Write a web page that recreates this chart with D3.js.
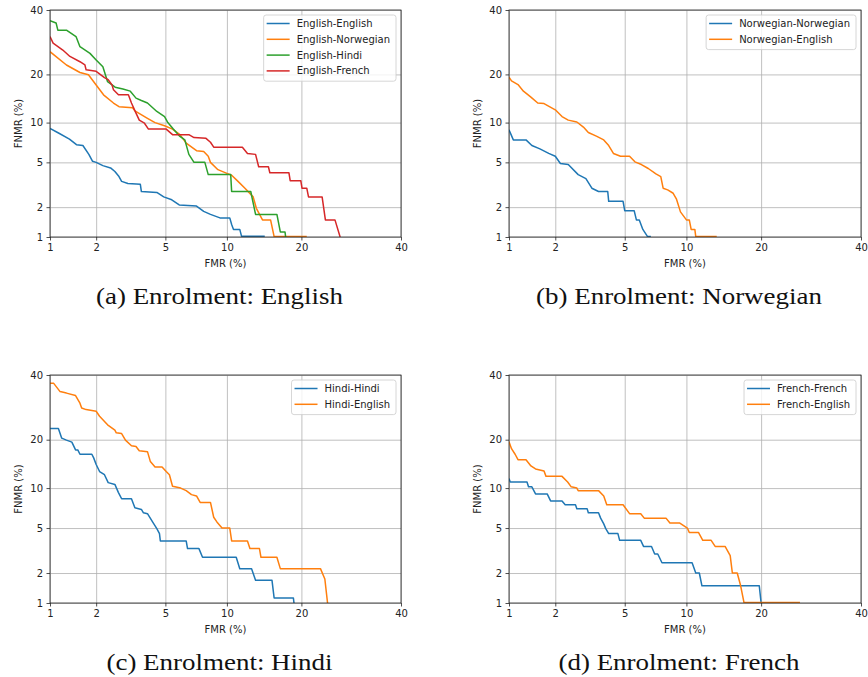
<!DOCTYPE html>
<html>
<head>
<meta charset="utf-8">
<script src="https://cdn.jsdelivr.net/npm/d3@7"></script>
<style>
  body { margin: 0; background: #fff; }
  svg { display: block; }
</style>
</head>
<body>
<script>
const WIDTH_SVG = 868;
const HEIGHT_SVG = 677;

const TICKS = [1, 2, 5, 10, 20, 40];
const COLORS = ["#1f77b4", "#ff7f0e", "#2ca02c", "#d62728"];

// DET curves, points as [FMR %, FNMR %]

// (a) Enrolment: English
const englishEnglish = [[1, 9.1], [1.15, 8.4], [1.35, 7.6], [1.5, 6.9], [1.65, 6.8], [1.8, 5.8], [1.9, 5.1], [2.0, 5.0], [2.2, 4.7], [2.45, 4.5], [2.6, 4.2], [2.75, 3.8], [2.85, 3.45], [3.1, 3.3], [3.65, 3.25], [3.7, 2.8], [4.5, 2.75], [4.9, 2.5], [5.4, 2.35], [5.9, 2.1], [7.2, 2.05], [7.8, 1.82], [8.4, 1.7], [9.3, 1.57], [10.3, 1.57], [10.5, 1.35], [10.7, 1.2], [11.4, 1.2], [11.6, 1.02], [14.5, 1.02]];
const englishNorwegian = [[1, 26.3], [1.29, 22.5], [1.58, 20.5], [1.79, 19.9], [2.0, 17.4], [2.22, 15.2], [2.55, 13.5], [2.75, 12.8], [3.3, 12.6], [3.4, 12.0], [4.0, 10.7], [4.4, 10.0], [4.95, 9.5], [5.45, 9.0], [5.95, 8.2], [6.4, 7.1], [7.2, 6.2], [7.8, 6.1], [8.2, 5.6], [8.4, 5.0], [9.1, 4.35], [10.0, 4.05], [10.5, 3.9], [11.2, 3.45], [12.0, 3.0], [13.0, 2.5], [13.4, 1.95], [14.2, 1.5], [15.3, 1.5], [15.8, 1.01], [20.9, 1.01]];
const englishHindi = [[1, 36.3], [1.1, 35.5], [1.13, 33.1], [1.29, 33.1], [1.49, 31], [1.58, 27.8], [1.83, 25.8], [2.0, 23.9], [2.2, 22], [2.35, 18.2], [2.61, 16.9], [2.9, 16.5], [3.2, 16], [3.45, 14.5], [3.7, 14], [4.0, 13.5], [4.5, 11.9], [4.95, 11], [5.15, 10], [5.5, 9], [5.95, 7.96], [6.3, 7.5], [6.6, 5.8], [7.0, 5.0], [7.9, 5.0], [8.2, 3.95], [10.4, 3.95], [10.5, 2.8], [12.7, 2.8], [13.3, 1.7], [16.2, 1.7], [16.7, 1.13], [17.4, 1.13], [17.5, 1]];
const englishFrench = [[1, 31], [1.05, 28.9], [1.22, 26.8], [1.36, 24.9], [1.58, 23.4], [1.7, 22.5], [1.73, 21.2], [2.0, 20.8], [2.25, 19.2], [2.37, 18.7], [2.5, 17.4], [2.55, 16.3], [2.73, 15.2], [3.12, 15.2], [3.25, 13.5], [3.45, 11.6], [3.6, 10.4], [3.85, 9.9], [4.05, 9.0], [5.05, 9.0], [5.45, 8.2], [6.6, 8.2], [7.0, 7.8], [8.0, 7.7], [8.4, 7.2], [8.7, 6.6], [11.7, 6.6], [12.3, 5.9], [13.3, 5.8], [13.7, 4.6], [15.0, 4.6], [15.2, 4.1], [18.0, 4.1], [18.2, 3.5], [19.9, 3.5], [20.1, 3.0], [20.9, 3.0], [21.2, 2.5], [23.6, 2.5], [24.2, 1.5], [26.0, 1.5], [27.0, 1]];

// (b) Enrolment: Norwegian
const norwegianNorwegian = [[1, 8.9], [1.07, 7.5], [1.3, 7.5], [1.42, 6.8], [1.6, 6.4], [1.82, 5.9], [2.0, 5.6], [2.15, 4.9], [2.4, 4.8], [2.75, 3.95], [3.05, 3.65], [3.3, 3.0], [3.6, 2.8], [4.05, 2.8], [4.1, 2.27], [4.9, 2.27], [5.0, 1.85], [5.6, 1.85], [5.75, 1.5], [5.95, 1.5], [6.2, 1.2], [6.55, 1.01], [6.8, 1.01]];
const norwegianEnglish = [[1, 19.3], [1.04, 18.4], [1.15, 17.5], [1.25, 16.0], [1.4, 14.7], [1.55, 13.5], [1.7, 13.4], [2.0, 12.2], [2.2, 11.0], [2.4, 10.4], [2.7, 10.1], [2.95, 9.3], [3.15, 8.5], [3.5, 8.0], [3.85, 7.5], [4.1, 6.8], [4.35, 5.9], [4.75, 5.6], [5.3, 5.6], [5.65, 5.05], [6.1, 4.8], [6.6, 4.45], [7.2, 4.0], [7.6, 3.8], [7.8, 3.0], [8.2, 2.9], [8.7, 2.7], [9.0, 2.4], [9.4, 1.8], [10.0, 1.5], [10.3, 1.5], [10.5, 1.2], [10.9, 1.2], [11.0, 1.01], [13.5, 1.01]];

// (c) Enrolment: Hindi
const hindiHindi = [[1, 23], [1.14, 23], [1.2, 20.4], [1.29, 19.9], [1.4, 19.4], [1.48, 17.5], [1.53, 17.5], [1.58, 16.5], [1.88, 16.5], [1.93, 15.7], [2.0, 14.3], [2.1, 12.9], [2.25, 12.3], [2.37, 10.9], [2.6, 10.6], [2.73, 9.3], [2.85, 8.4], [3.25, 8.4], [3.4, 7.2], [3.7, 7.0], [3.8, 6.6], [4.0, 6.5], [4.3, 5.5], [4.5, 4.95], [4.65, 4.5], [4.7, 3.9], [6.4, 3.9], [6.5, 3.35], [7.4, 3.35], [7.7, 2.8], [11.0, 2.8], [11.4, 2.2], [12.8, 2.2], [13.3, 1.7], [15.5, 1.7], [15.8, 1.13], [18.7, 1.13], [18.8, 1]];
const hindiEnglish = [[1, 37.1], [1.06, 37.1], [1.17, 34.3], [1.29, 33.8], [1.48, 33], [1.58, 30.5], [1.62, 29], [1.73, 28.5], [2.0, 28], [2.1, 26.5], [2.35, 24.0], [2.6, 22.5], [2.65, 21.8], [2.85, 21.6], [3.0, 19.9], [3.25, 18.5], [3.45, 18.3], [3.6, 17.3], [4.0, 17.1], [4.15, 14.9], [4.4, 13.8], [4.8, 13.8], [5.05, 12.9], [5.25, 12.3], [5.45, 10.3], [6.0, 10.0], [6.4, 9.6], [6.8, 9.0], [7.2, 8.8], [7.5, 7.9], [8.4, 7.9], [8.7, 6.1], [9.0, 5.6], [9.5, 5.0], [10.3, 5.0], [10.5, 3.9], [12.3, 3.9], [12.6, 3.35], [13.8, 3.35], [14.0, 2.8], [16.2, 2.8], [16.7, 2.2], [23.3, 2.2], [24.1, 1.75], [24.6, 1]];

// (d) Enrolment: French
const frenchFrench = [[1, 11.6], [1.02, 11.0], [1.32, 11.0], [1.35, 10.2], [1.42, 10.2], [1.5, 9.1], [1.78, 9.1], [1.87, 8.1], [2.2, 8.1], [2.3, 7.6], [2.65, 7.6], [2.7, 7.1], [3.1, 7.1], [3.15, 6.6], [3.6, 6.6], [3.7, 6.0], [3.85, 5.4], [3.95, 4.95], [4.1, 4.5], [4.6, 4.5], [4.7, 3.95], [6.05, 3.95], [6.25, 3.5], [6.85, 3.5], [7.1, 3.0], [7.35, 3.0], [7.7, 2.5], [10.6, 2.5], [11.0, 2.0], [11.4, 2.0], [11.7, 1.5], [19.7, 1.5], [20.0, 1]];
const frenchEnglish = [[1, 19.5], [1.04, 17.8], [1.1, 16.5], [1.15, 15.3], [1.3, 15.3], [1.4, 14], [1.5, 13.4], [1.7, 13], [1.75, 12.0], [2.2, 12.0], [2.38, 11.0], [2.5, 10.2], [2.7, 10.0], [2.75, 9.6], [3.6, 9.6], [3.85, 8.8], [4.0, 7.6], [4.9, 7.6], [5.3, 6.5], [6.05, 6.5], [6.3, 6.0], [8.05, 6.0], [8.4, 5.5], [9.3, 5.5], [10.1, 5.0], [10.3, 4.6], [11.3, 4.6], [11.8, 3.95], [12.8, 3.95], [13.3, 3.5], [14.6, 3.5], [15.3, 2.9], [15.6, 2.0], [16.3, 2.0], [16.8, 1.5], [17.3, 1.01], [27.0, 1.01]];

const captions = ["(a) Enrolment: English", "(b) Enrolment: Norwegian", "(c) Enrolment: Hindi", "(d) Enrolment: French"];
const legendA = ["English-English", "English-Norwegian", "English-Hindi", "English-French"];
const legendB = ["Norwegian-Norwegian", "Norwegian-English"];
const legendC = ["Hindi-Hindi", "Hindi-English"];
const legendD = ["French-French", "French-English"];

// inverse normal CDF (Acklam)
function probit(p) {
    const a = [-3.969683028665376e+01, 2.209460984245205e+02, -2.759285104469687e+02, 1.383577518672690e+02, -3.066479806614716e+01, 2.506628277459239e+00];
    const b = [-5.447609879822406e+01, 1.615858368580409e+02, -1.556989798598866e+02, 6.680131188771972e+01, -1.328068155288572e+01];
    const c = [-7.784894002430293e-03, -3.223964580411365e-01, -2.400758277161838e+00, -2.549732539343734e+00, 4.374664141464968e+00, 2.938163982698783e+00];
    const d = [7.784695709041462e-03, 3.224671290700398e-01, 2.445134137142996e+00, 3.754408661907416e+00];
    const pl = 0.02425;
    let q, r;
    if (p < pl) {
        q = Math.sqrt(-2 * Math.log(p));
        return (((((c[0]*q+c[1])*q+c[2])*q+c[3])*q+c[4])*q+c[5]) / ((((d[0]*q+d[1])*q+d[2])*q+d[3])*q+1);
    }
    if (p <= 1 - pl) {
        q = p - 0.5; r = q * q;
        return (((((a[0]*r+a[1])*r+a[2])*r+a[3])*r+a[4])*r+a[5])*q / (((((b[0]*r+b[1])*r+b[2])*r+b[3])*r+b[4])*r+1);
    }
    q = Math.sqrt(-2 * Math.log(1 - p));
    return -(((((c[0]*q+c[1])*q+c[2])*q+c[3])*q+c[4])*q+c[5]) / ((((d[0]*q+d[1])*q+d[2])*q+d[3])*q+1);
}
const pz = v => probit(v / 100);

const svg = d3.select("body")
    .append("svg")
        .attr("width", WIDTH_SVG)
        .attr("height", HEIGHT_SVG)
        .attr("viewBox", `0 0 ${WIDTH_SVG} ${HEIGHT_SVG}`);

const FONT = "DejaVu Sans, sans-serif";

const panels = [
    { left: 50, right: 401, top: 10, bottom: 237, series: [englishEnglish, englishNorwegian, englishHindi, englishFrench], names: legendA, caption: captions[0] },
    { left: 509, right: 861, top: 10, bottom: 237, series: [norwegianNorwegian, norwegianEnglish], names: legendB, caption: captions[1] },
    { left: 50, right: 401, top: 375, bottom: 603, series: [hindiHindi, hindiEnglish], names: legendC, caption: captions[2] },
    { left: 509, right: 861, top: 375, bottom: 603, series: [frenchFrench, frenchEnglish], names: legendD, caption: captions[3] }
];

// caption font is wider in the original (Computer Modern), stretch to match
let captionStretch = null;

panels.forEach((p, idx) => drawPanel(p, idx));

function drawPanel(p, idx) {
    const x = d3.scaleLinear().domain([pz(1), pz(40)]).range([p.left, p.right]);
    const y = d3.scaleLinear().domain([pz(1), pz(40)]).range([p.bottom, p.top]);
    const w = p.right - p.left, h = p.bottom - p.top;
    const g = svg.append("g");
    const tickVals = TICKS.map(pz);
    const fmt = (dd, i) => TICKS[i];

    // grid
    const gridX = g.append("g")
        .attr("transform", `translate(0,${p.bottom})`)
        .call(d3.axisBottom(x).tickValues(tickVals).tickSize(-h).tickFormat(""));
    const gridY = g.append("g")
        .attr("transform", `translate(${p.left},0)`)
        .call(d3.axisLeft(y).tickValues(tickVals).tickSize(-w).tickFormat(""));
    [gridX, gridY].forEach(gg => {
        gg.select(".domain").remove();
        gg.selectAll("line").attr("stroke", "#b0b0b0").attr("stroke-width", 0.8);
    });

    // curves
    const clipId = "clip" + idx;
    g.append("clipPath").attr("id", clipId)
        .append("rect").attr("x", p.left).attr("y", p.top - 1).attr("width", w).attr("height", h + 1);
    const line = d3.line()
        .x(dd => x(pz(dd[0])))
        .y(dd => y(pz(dd[1])));
    p.series.forEach((s, i) => {
        g.append("path")
            .datum(s)
            .attr("clip-path", `url(#${clipId})`)
            .attr("d", line)
            .attr("fill", "none")
            .attr("stroke", COLORS[i])
            .attr("stroke-width", 1.5)
            .attr("stroke-linejoin", "round");
    });

    // axes
    const ax = g.append("g")
        .attr("transform", `translate(0,${p.bottom})`)
        .call(d3.axisBottom(x).tickValues(tickVals).tickFormat(fmt).tickSize(3.5).tickPadding(3.5));
    const ay = g.append("g")
        .attr("transform", `translate(${p.left},0)`)
        .call(d3.axisLeft(y).tickValues(tickVals).tickFormat(fmt).tickSize(3.5).tickPadding(3.5));
    [ax, ay].forEach(gg => {
        gg.select(".domain").remove();
        gg.selectAll("text").attr("font-family", FONT).attr("font-size", 10).attr("fill", "#222");
        gg.selectAll("line").attr("stroke", "#222").attr("stroke-width", 0.8);
    });

    // frame
    g.append("rect")
        .attr("x", p.left).attr("y", p.top)
        .attr("width", w).attr("height", h)
        .attr("fill", "none").attr("stroke", "#222").attr("stroke-width", 0.8);

    // axis labels
    g.append("text")
        .attr("x", (p.left + p.right) / 2).attr("y", p.bottom + 30)
        .attr("text-anchor", "middle")
        .attr("font-family", FONT).attr("font-size", 10).attr("fill", "#222")
        .text("FMR (%)");
    g.append("text")
        .attr("transform", `translate(${p.left - 28},${(p.top + p.bottom) / 2}) rotate(-90)`)
        .attr("text-anchor", "middle")
        .attr("font-family", FONT).attr("font-size", 10).attr("fill", "#222")
        .text("FNMR (%)");

    // legend
    const lg = g.append("g");
    const box = lg.append("rect")
        .attr("fill", "#fff").attr("fill-opacity", 0.8)
        .attr("stroke", "#cccccc").attr("stroke-width", 0.8)
        .attr("rx", 2.5).attr("ry", 2.5);
    let maxW = 0;
    const items = p.names.map((n, i) => {
        const t = lg.append("text")
            .attr("font-family", FONT).attr("font-size", 10).attr("fill", "#222")
            .attr("dy", "0.35em")
            .text(n);
        maxW = Math.max(maxW, t.node().getComputedTextLength());
        return t;
    });
    const boxW = 33 + maxW + 6;
    const boxH = p.names.length * 15.8 + 3;
    const bx = p.right - 5 - boxW;
    const by = p.top + 5;
    box.attr("x", bx).attr("y", by).attr("width", boxW).attr("height", boxH);
    items.forEach((t, i) => {
        const cy = by + 8.5 + i * 15.8;
        t.attr("x", bx + 33).attr("y", cy);
        lg.append("line")
            .attr("x1", bx + 3).attr("x2", bx + 26)
            .attr("y1", cy).attr("y2", cy)
            .attr("stroke", COLORS[i]).attr("stroke-width", 1.5);
    });

    // caption
    const cap = svg.append("text")
        .attr("x", (p.left + p.right) / 2 - 6)
        .attr("y", p.bottom + 67)
        .attr("text-anchor", "middle")
        .attr("font-family", "Liberation Serif, serif")
        .attr("font-size", 22.5)
        .attr("fill", "#111")
        .text(p.caption);
    const len = cap.node().getComputedTextLength();
    if (captionStretch === null) captionStretch = 247 / len;
    cap.attr("textLength", len * captionStretch).attr("lengthAdjust", "spacingAndGlyphs");
}
</script>
</body>
</html>
